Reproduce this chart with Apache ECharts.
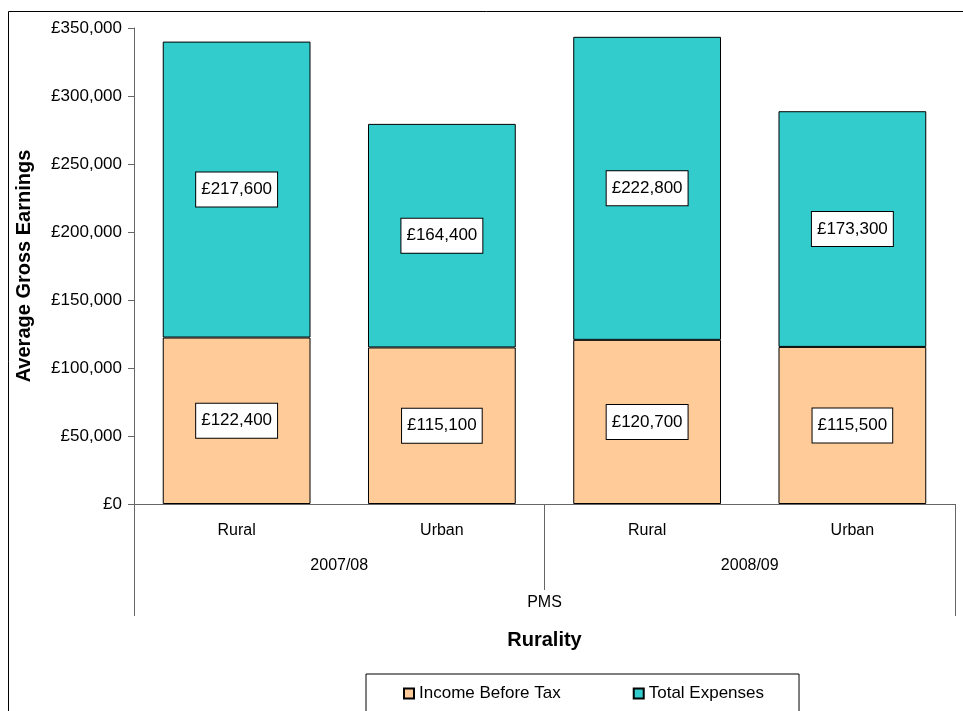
<!DOCTYPE html>
<html>
<head>
<meta charset="utf-8">
<script src="https://cdn.jsdelivr.net/npm/echarts@6/dist/echarts.min.js"></script>
<style>
html,body{margin:0;padding:0;background:#fff;}
#chart{width:963px;height:711px;}
</style>
</head>
<body>
<div id="chart"></div>
<script>
// ---- data ----
var categories = ['Rural', 'Urban', 'Rural', 'Urban'];
var years = ['2007/08', '2008/09'];
var scheme = ['PMS'];
var seriesNames = ['Income Before Tax', 'Total Expenses'];
var incomeBeforeTax = [122400, 115100, 120700, 115500];
var totalExpenses = [217600, 164400, 222800, 173300];
var yTicks = { min: 0, max: 350000, interval: 50000 };

function fmt(v) {
  var s = String(Math.round(v));
  return '£' + s.replace(/\B(?=(\d{3})+(?!\d))/g, ',');
}

var FONT = '"Liberation Sans", Arial, sans-serif';
var axisCol = '#666';

var labelStyle = {
  show: true,
  position: 'inside',
  formatter: function (p) { return fmt(p.value); },
  backgroundColor: '#fff',
  borderColor: '#000',
  borderWidth: 1,
  padding: [9, 5, 8, 5],
  color: '#000',
  fontSize: 17,
  fontFamily: FONT
};

var chart = echarts.init(document.getElementById('chart'), null, { renderer: 'canvas' });
chart.setOption({
  animation: false,
  textStyle: { fontFamily: FONT, color: '#000' },
  graphic: [{
    type: 'rect',
    shape: { x: 8.5, y: 11.5, width: 1000, height: 800 },
    style: { fill: 'none', stroke: '#000', lineWidth: 1 },
    silent: true,
    z: -10
  }],
  grid: { left: 134, right: 8, top: 28, bottom: 207, containLabel: false },
  legend: {
    data: seriesNames,
    left: 366,
    top: 674,
    orient: 'horizontal',
    icon: 'rect',
    itemWidth: 10,
    itemHeight: 10,
    itemGap: 72,
    borderColor: '#000',
    borderWidth: 1,
    padding: [11, 35, 20, 37],
    textStyle: { fontSize: 17, color: '#000', fontFamily: FONT }
  },
  xAxis: [{
    type: 'category',
    data: categories,
    gridIndex: 0,
    position: 'bottom',
    axisLine: { show: true, lineStyle: { color: axisCol, width: 1 } },
    axisTick: { show: false },
    axisLabel: { margin: 19, fontSize: 16, color: '#000', fontFamily: FONT },
    splitLine: { show: false }
  }, {
    type: 'category',
    data: years,
    gridIndex: 0,
    position: 'bottom',
    axisLine: { show: false },
    axisTick: { show: true, length: 86, lineStyle: { color: axisCol, width: 1 } },
    axisLabel: { margin: 54, fontSize: 16, color: '#000', fontFamily: FONT },
    splitLine: { show: false }
  }, {
    type: 'category',
    data: scheme,
    gridIndex: 0,
    position: 'bottom',
    axisLine: { show: false },
    axisTick: { show: true, length: 112, lineStyle: { color: axisCol, width: 1 } },
    axisLabel: { margin: 91, fontSize: 16, color: '#000', fontFamily: FONT },
    name: 'Rurality',
    nameLocation: 'middle',
    nameGap: 126,
    nameTextStyle: { fontSize: 20, fontWeight: 'bold', color: '#000', fontFamily: FONT },
    splitLine: { show: false }
  }],
  yAxis: {
    type: 'value',
    min: yTicks.min,
    max: yTicks.max,
    interval: yTicks.interval,
    axisLine: { show: true, lineStyle: { color: axisCol, width: 1 } },
    axisTick: { show: true, length: 6, lineStyle: { color: axisCol } },
    axisLabel: { margin: 12, fontSize: 17, color: '#000', fontFamily: FONT, formatter: fmt },
    splitLine: { show: false },
    name: 'Average Gross Earnings',
    nameLocation: 'middle',
    nameGap: 100,
    nameTextStyle: { fontSize: 20, fontWeight: 'bold', color: '#000', fontFamily: FONT }
  },
  series: [{
    name: seriesNames[0],
    type: 'bar',
    stack: 'total',
    xAxisIndex: 0,
    data: incomeBeforeTax,
    barWidth: '72%',
    itemStyle: { color: '#FFCC99', borderColor: '#000', borderWidth: 1 },
    label: labelStyle
  }, {
    name: seriesNames[1],
    type: 'bar',
    stack: 'total',
    xAxisIndex: 0,
    data: totalExpenses,
    barWidth: '72%',
    itemStyle: { color: '#33CCCC', borderColor: '#000', borderWidth: 1 },
    label: labelStyle
  }]
});
</script>
</body>
</html>
